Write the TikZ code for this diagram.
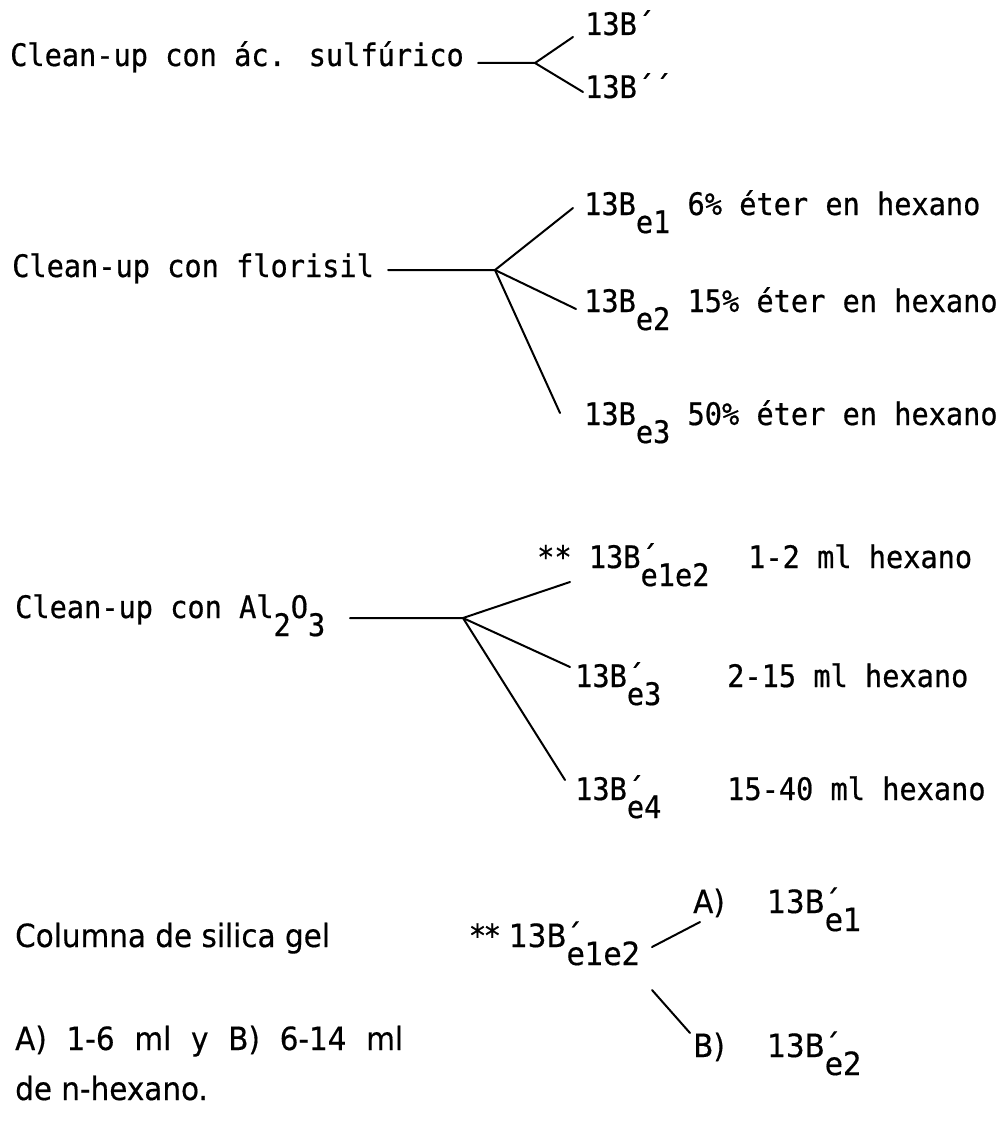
\documentclass[tikz,border=0pt]{standalone}
\usepackage{fontspec}
\setmainfont[FakeStretch=0.923,FakeBold=0.6]{DejaVu Sans Mono}
\newfontfamily\narfont[FakeStretch=0.92,FakeBold=0.4]{DejaVu Sans}
\newcommand\lowr[1]{\raisebox{-18pt}{#1}}
\newcommand\psub[1]{\rlap{´}\lowr{#1}}
\begin{document}
\begin{tikzpicture}[x=1pt,y=-1pt,
  tw/.style={inner sep=0pt, anchor=base west, font=\fontsize{31}{36}\selectfont},
  nar/.style={inner sep=0pt, anchor=base west, font=\narfont\fontsize{32}{36}\selectfont},
  ln/.style={line width=2pt, line cap=round}]
\path[use as bounding box] (0,0) rectangle (1004,1121);
% --- section 1
\node[tw] (s1) at (10,66) {Clean-up con ác. sulfúrico};
\coordinate (s1a) at (478,63);
\coordinate (j1) at (535,63);
\coordinate (s1u) at (573,37);
\coordinate (s1d) at (583,92);
\node[tw] (b1) at (585,35) {13B´};
\node[tw] (b2) at (585,98) {13B´´};
\draw[ln] (s1a) -- (j1) -- (s1u);
\draw[ln] (j1) -- (s1d);
% --- section 2
\node[tw] (s2) at (12,277) {Clean-up con florisil};
\coordinate (s2a) at (388,270);
\coordinate (j2) at (495,270);
\coordinate (f1e) at (573,208);
\coordinate (f2e) at (576,309);
\coordinate (f3e) at (560,413);
\node[tw] (f1) at (584,215) {13B\lowr{e1} 6\% éter en hexano};
\node[tw] (f2) at (584,312) {13B\lowr{e2} 15\% éter en hexano};
\node[tw] (f3) at (584,425) {13B\lowr{e3} 50\% éter en hexano};
\draw[ln] (s2a) -- (j2) -- (f1e);
\draw[ln] (j2) -- (f2e);
\draw[ln] (j2) -- (f3e);
% --- section 3
\node[tw] (s3) at (15,618) {Clean-up con Al\lowr{2}O\lowr{3}};
\coordinate (s3a) at (350,618);
\coordinate (j3) at (463,618);
\coordinate (a1e) at (570,582);
\coordinate (a2e) at (570,667);
\coordinate (a3e) at (565,780);
\node[tw] (a1) at (537,568) {** 13B\psub{e1e2}};
\node[tw] (h1) at (748,568) {1-2 ml hexano};
\node[tw] (a2) at (575,687) {13B\psub{e3}};
\node[tw] (h2) at (727,687) {2-15 ml hexano};
\node[tw] (a3) at (575,800) {13B\psub{e4}};
\node[tw] (h3) at (727,800) {15-40 ml hexano};
\draw[ln] (s3a) -- (j3) -- (a1e);
\draw[ln] (j3) -- (a2e);
\draw[ln] (j3) -- (a3e);
% --- section 4
\node[nar] (c1) at (15,947) {Columna de silica gel};
\node[nar] (c2) at (15,1050) {\makebox[388pt][s]{A) 1-6 ml y B) 6-14 ml}};
\node[nar] (c3) at (15,1100) {de n-hexano.};
\node[nar] (g0) at (470,947) {** 13B\psub{e1e2}};
\coordinate (gas) at (652,947);
\coordinate (gae) at (700,922);
\coordinate (gbs) at (652,990);
\coordinate (gbe) at (690,1033);
\node[nar] (ga) at (693,913) {A)};
\node[nar] (gb) at (693,1057) {B)};
\node[nar] (g1) at (767,913) {13B\psub{e1}};
\node[nar] (g2) at (767,1057) {13B\psub{e2}};
\draw[ln] (gas) -- (gae);
\draw[ln] (gbs) -- (gbe);
\end{tikzpicture}
\end{document}
